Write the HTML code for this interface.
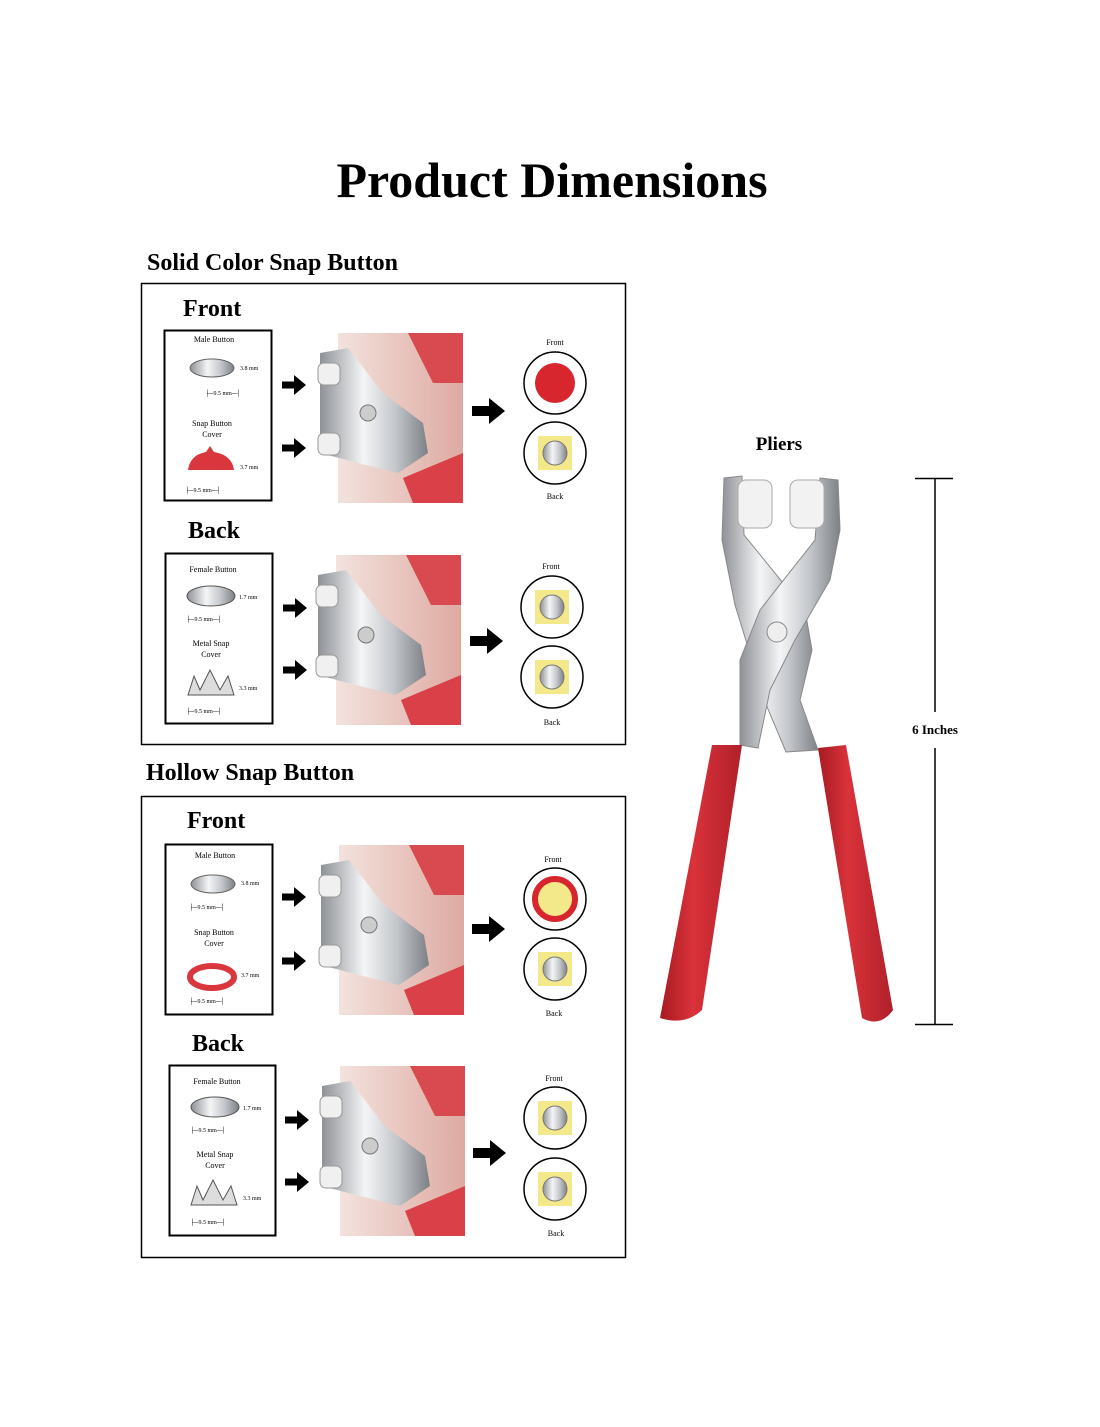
<!DOCTYPE html>
<html><head><meta charset="utf-8"><style>
html,body{margin:0;padding:0;background:#fff;}
body{width:1100px;height:1422px;position:relative;overflow:hidden;font-family:"Liberation Serif",serif;}
</style></head><body>
<svg width="1100" height="1422" viewBox="0 0 1100 1422" xmlns="http://www.w3.org/2000/svg" font-family="Liberation Serif, serif">
<defs>
<linearGradient id="photo" x1="0" y1="0" x2="1" y2="0">
<stop offset="0" stop-color="#f3e2de"/><stop offset="0.5" stop-color="#e9c6bf"/><stop offset="1" stop-color="#ddaaa2"/>
</linearGradient>
<linearGradient id="metal" x1="0" y1="0" x2="1" y2="0">
<stop offset="0" stop-color="#8e9196"/><stop offset="0.4" stop-color="#f4f5f6"/><stop offset="0.7" stop-color="#c3c6ca"/><stop offset="1" stop-color="#7d8085"/>
</linearGradient>
<linearGradient id="red" x1="0" y1="0" x2="1" y2="0">
<stop offset="0" stop-color="#a81a22"/><stop offset="0.4" stop-color="#d9323a"/><stop offset="1" stop-color="#b0202a"/>
</linearGradient>
<g id="arrow"><rect x="0" y="-3.5" width="14" height="7" fill="#000"/><polygon points="12,-10 24,0 12,10" fill="#000"/></g>
<g id="bigarrow"><rect x="0" y="-5" width="20" height="10" fill="#000"/><polygon points="17,-13 33,0 17,13" fill="#000"/></g>
<g id="photoG">
<rect x="0" y="0" width="125" height="170" fill="url(#photo)"/>
<path d="M70 0 L125 0 L125 50 L95 50 Z" fill="#d84a4f"/>
<path d="M65 145 L125 120 L125 170 L75 170 Z" fill="#d94048"/>
<path d="M-18 20 L10 15 L45 60 L85 90 L90 120 L60 140 L20 130 L-18 120 Z" fill="url(#metal)"/>
<rect x="-20" y="30" width="22" height="22" rx="6" fill="#f0f0f0" stroke="#999"/>
<rect x="-20" y="100" width="22" height="22" rx="6" fill="#f0f0f0" stroke="#999"/>
<circle cx="30" cy="80" r="8" fill="#ccc" stroke="#777"/>
</g>
<g id="circ"><circle r="31" fill="#fff" stroke="#000" stroke-width="1.5"/></g>
</defs>

<text x="552" y="197" text-anchor="middle" font-size="50" font-weight="bold">Product Dimensions</text>

<text x="147" y="270" font-size="24" font-weight="bold">Solid Color Snap Button</text>
<rect x="141.5" y="283.5" width="484" height="461" fill="none" stroke="#000" stroke-width="1.5"/>
<text x="183" y="316" font-size="24" font-weight="bold">Front</text>
<rect x="164.5" y="330.5" width="107" height="170" fill="none" stroke="#000" stroke-width="2"/>
<text x="214" y="342" font-size="8" text-anchor="middle">Male Button</text>
<ellipse cx="212" cy="368" rx="22" ry="9" fill="url(#metal)" stroke="#666"/>
<text x="240" y="370" font-size="6">3.8 mm</text>
<text x="205" y="395" font-size="6">├─9.5 mm─┤</text>
<text x="212" y="426" font-size="8" text-anchor="middle">Snap Button</text>
<text x="212" y="437" font-size="8" text-anchor="middle">Cover</text>
<path d="M188 470 Q190 455 206 452 L210 446 L214 452 Q232 455 234 470 Z" fill="#d9363e"/>
<text x="240" y="469" font-size="6">3.7 mm</text>
<text x="185" y="492" font-size="6">├─9.5 mm─┤</text>
<use href="#photoG" x="338" y="333"/>
<use href="#arrow" x="282" y="385"/><use href="#arrow" x="282" y="448"/>
<use href="#bigarrow" x="472" y="411"/>
<text x="555" y="345" font-size="8" text-anchor="middle">Front</text>
<use href="#circ" x="555" y="383"/><circle cx="555" cy="383" r="20" fill="#d8262e"/>
<use href="#circ" x="555" y="453"/><rect x="538" y="436" width="34" height="34" fill="#f3e98a"/><circle cx="555" cy="453" r="12" fill="url(#metal)" stroke="#777"/>
<text x="555" y="499" font-size="8" text-anchor="middle">Back</text>

<text x="188" y="538" font-size="24" font-weight="bold">Back</text>
<rect x="165.5" y="553.5" width="107" height="170" fill="none" stroke="#000" stroke-width="2"/>
<text x="213" y="572" font-size="8" text-anchor="middle">Female Button</text>
<ellipse cx="211" cy="596" rx="24" ry="10" fill="url(#metal)" stroke="#555"/>
<text x="239" y="599" font-size="6">1.7 mm</text>
<text x="186" y="621" font-size="6">├─9.5 mm─┤</text>
<text x="211" y="646" font-size="8" text-anchor="middle">Metal Snap</text>
<text x="211" y="657" font-size="8" text-anchor="middle">Cover</text>
<path d="M188 695 L194 676 L200 690 L210 670 L220 690 L228 676 L234 695 Z" fill="#ddd" stroke="#555"/>
<text x="239" y="690" font-size="6">3.3 mm</text>
<text x="186" y="713" font-size="6">├─9.5 mm─┤</text>
<use href="#photoG" x="336" y="555"/>
<use href="#arrow" x="283" y="608"/><use href="#arrow" x="283" y="670"/>
<use href="#bigarrow" x="470" y="641"/>
<text x="551" y="569" font-size="8" text-anchor="middle">Front</text>
<use href="#circ" x="552" y="607"/><rect x="535" y="590" width="34" height="34" fill="#f3e98a"/><circle cx="552" cy="607" r="12" fill="url(#metal)" stroke="#777"/>
<use href="#circ" x="552" y="677"/><rect x="535" y="660" width="34" height="34" fill="#f3e98a"/><circle cx="552" cy="677" r="12" fill="url(#metal)" stroke="#777"/>
<text x="552" y="725" font-size="8" text-anchor="middle">Back</text>

<text x="146" y="780" font-size="24" font-weight="bold">Hollow Snap Button</text>
<rect x="141.5" y="796.5" width="484" height="461" fill="none" stroke="#000" stroke-width="1.5"/>
<text x="187" y="828" font-size="24" font-weight="bold">Front</text>
<rect x="165.5" y="844.5" width="107" height="170" fill="none" stroke="#000" stroke-width="2"/>
<text x="215" y="858" font-size="8" text-anchor="middle">Male Button</text>
<ellipse cx="213" cy="884" rx="22" ry="9" fill="url(#metal)" stroke="#666"/>
<text x="241" y="885" font-size="6">3.8 mm</text>
<text x="189" y="909" font-size="6">├─9.5 mm─┤</text>
<text x="214" y="935" font-size="8" text-anchor="middle">Snap Button</text>
<text x="214" y="946" font-size="8" text-anchor="middle">Cover</text>
<ellipse cx="212" cy="977" rx="22" ry="11" fill="none" stroke="#d9363e" stroke-width="6"/>
<text x="241" y="977" font-size="6">3.7 mm</text>
<text x="189" y="1003" font-size="6">├─9.5 mm─┤</text>
<use href="#photoG" x="339" y="845"/>
<use href="#arrow" x="282" y="897"/><use href="#arrow" x="282" y="961"/>
<use href="#bigarrow" x="472" y="929"/>
<text x="553" y="862" font-size="8" text-anchor="middle">Front</text>
<use href="#circ" x="555" y="899"/><circle cx="555" cy="899" r="20" fill="#f3e98a" stroke="#d8262e" stroke-width="6"/>
<use href="#circ" x="555" y="969"/><rect x="538" y="952" width="34" height="34" fill="#f3e98a"/><circle cx="555" cy="969" r="12" fill="url(#metal)" stroke="#777"/>
<text x="554" y="1016" font-size="8" text-anchor="middle">Back</text>

<text x="192" y="1051" font-size="24" font-weight="bold">Back</text>
<rect x="169.5" y="1065.5" width="106" height="170" fill="none" stroke="#000" stroke-width="2"/>
<text x="217" y="1084" font-size="8" text-anchor="middle">Female Button</text>
<ellipse cx="215" cy="1107" rx="24" ry="10" fill="url(#metal)" stroke="#555"/>
<text x="243" y="1110" font-size="6">1.7 mm</text>
<text x="190" y="1132" font-size="6">├─9.5 mm─┤</text>
<text x="215" y="1157" font-size="8" text-anchor="middle">Metal Snap</text>
<text x="215" y="1168" font-size="8" text-anchor="middle">Cover</text>
<path d="M191 1205 L197 1186 L203 1200 L213 1180 L223 1200 L231 1186 L237 1205 Z" fill="#ddd" stroke="#555"/>
<text x="243" y="1200" font-size="6">3.3 mm</text>
<text x="190" y="1224" font-size="6">├─9.5 mm─┤</text>
<use href="#photoG" x="340" y="1066"/>
<use href="#arrow" x="285" y="1120"/><use href="#arrow" x="285" y="1182"/>
<use href="#bigarrow" x="473" y="1153"/>
<text x="554" y="1081" font-size="8" text-anchor="middle">Front</text>
<use href="#circ" x="555" y="1118"/><rect x="538" y="1101" width="34" height="34" fill="#f3e98a"/><circle cx="555" cy="1118" r="12" fill="url(#metal)" stroke="#777"/>
<use href="#circ" x="555" y="1189"/><rect x="538" y="1172" width="34" height="34" fill="#f3e98a"/><circle cx="555" cy="1189" r="12" fill="url(#metal)" stroke="#777"/>
<text x="556" y="1236" font-size="8" text-anchor="middle">Back</text>

<!-- Pliers -->
<text x="779" y="450" font-size="19" font-weight="bold" text-anchor="middle">Pliers</text>
<path d="M724 478 L742 476 L744 535 L805 610 L812 650 L800 700 L818 750 L786 752 L760 690 L752 660 L735 605 L722 540 Z" fill="url(#metal)" stroke="#888"/>
<path d="M838 480 L820 478 L815 540 L760 610 L740 660 L740 745 L758 748 L770 690 L795 640 L830 580 L840 530 Z" fill="url(#metal)" stroke="#888"/>
<rect x="738" y="480" width="34" height="48" rx="8" fill="#f2f2f2" stroke="#aaa"/>
<rect x="790" y="480" width="34" height="48" rx="8" fill="#f2f2f2" stroke="#aaa"/>
<circle cx="777" cy="632" r="10" fill="#eee" stroke="#888"/>
<path d="M712 745 L742 745 L702 1010 Q685 1026 660 1018 Z" fill="url(#red)"/>
<path d="M818 748 L846 745 L893 1010 Q880 1028 862 1018 Z" fill="url(#red)"/>
<line x1="935" y1="478" x2="935" y2="712" stroke="#000" stroke-width="1.5"/>
<line x1="935" y1="748" x2="935" y2="1025" stroke="#000" stroke-width="1.5"/>
<line x1="915" y1="478.5" x2="953" y2="478.5" stroke="#000" stroke-width="1.5"/>
<line x1="915" y1="1024.5" x2="953" y2="1024.5" stroke="#000" stroke-width="1.5"/>
<text x="935" y="734" font-size="13" font-weight="bold" text-anchor="middle">6 Inches</text>
</svg>
</body></html>
